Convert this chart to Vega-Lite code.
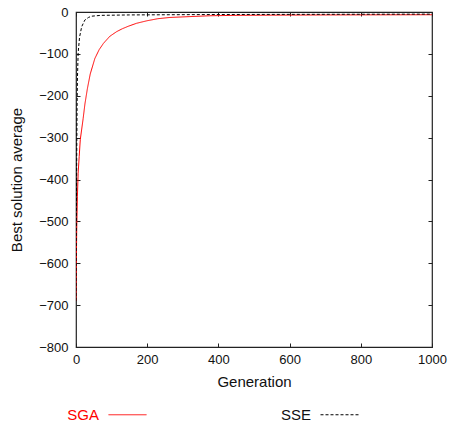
{
  "$schema": "https://vega.github.io/schema/vega-lite/v6.json",
  "width": 356,
  "height": 335,
  "autosize": {"type": "none"},
  "padding": {"left": 76, "top": 12, "right": 19, "bottom": 78},
  "background": "white",
  "config": {
    "view": {"stroke": "#222", "strokeWidth": 1.2},
    "font": "Liberation Sans",
    "axis": {
      "grid": false,
      "domain": false,
      "tickSize": 4,
      "offset": -4,
      "tickColor": "#222",
      "labelFontSize": 13,
      "labelColor": "#111",
      "titleFontSize": 15,
      "titleFontWeight": "normal",
      "titleColor": "#111",
      "labelFlush": false,
      "labelOverlap": false
    }
  },
  "data": {
    "values": [
      {"series": "SGA", "gen": 0, "value": -690},
      {"series": "SGA", "gen": 1, "value": -600},
      {"series": "SGA", "gen": 2, "value": -520},
      {"series": "SGA", "gen": 4, "value": -440},
      {"series": "SGA", "gen": 6, "value": -385},
      {"series": "SGA", "gen": 9, "value": -345},
      {"series": "SGA", "gen": 12, "value": -305},
      {"series": "SGA", "gen": 20, "value": -255},
      {"series": "SGA", "gen": 25, "value": -220},
      {"series": "SGA", "gen": 32, "value": -183},
      {"series": "SGA", "gen": 40, "value": -148},
      {"series": "SGA", "gen": 53, "value": -111},
      {"series": "SGA", "gen": 65, "value": -90},
      {"series": "SGA", "gen": 77, "value": -75},
      {"series": "SGA", "gen": 95, "value": -58},
      {"series": "SGA", "gen": 114, "value": -47},
      {"series": "SGA", "gen": 130, "value": -40},
      {"series": "SGA", "gen": 147, "value": -34},
      {"series": "SGA", "gen": 170, "value": -27},
      {"series": "SGA", "gen": 199, "value": -21},
      {"series": "SGA", "gen": 230, "value": -16},
      {"series": "SGA", "gen": 264, "value": -13},
      {"series": "SGA", "gen": 320, "value": -11},
      {"series": "SGA", "gen": 376, "value": -9},
      {"series": "SGA", "gen": 450, "value": -8},
      {"series": "SGA", "gen": 550, "value": -7.5},
      {"series": "SGA", "gen": 700, "value": -7},
      {"series": "SGA", "gen": 1000, "value": -6.5},
      {"series": "SSE", "gen": 0, "value": -690},
      {"series": "SSE", "gen": 1, "value": -500},
      {"series": "SSE", "gen": 2, "value": -350},
      {"series": "SSE", "gen": 3, "value": -230},
      {"series": "SSE", "gen": 4, "value": -160},
      {"series": "SSE", "gen": 6, "value": -98},
      {"series": "SSE", "gen": 10, "value": -60},
      {"series": "SSE", "gen": 16, "value": -35},
      {"series": "SSE", "gen": 25, "value": -19},
      {"series": "SSE", "gen": 35, "value": -13},
      {"series": "SSE", "gen": 44, "value": -10},
      {"series": "SSE", "gen": 70, "value": -8},
      {"series": "SSE", "gen": 150, "value": -7},
      {"series": "SSE", "gen": 400, "value": -6},
      {"series": "SSE", "gen": 1000, "value": -5}
    ]
  },
  "resolve": {"axis": {"x": "independent", "y": "independent"}},
  "layer": [
    {
      "mark": {"type": "line", "strokeWidth": 1, "clip": true},
      "encoding": {
        "x": {"field": "gen", "type": "quantitative", "scale": {"domain": [0, 1000], "nice": false},
              "axis": {"orient": "bottom", "title": "Generation", "format": "d", "values": [0, 200, 400, 600, 800, 1000], "labelPadding": 6, "titlePadding": 8}},
        "y": {"field": "value", "type": "quantitative", "scale": {"domain": [-800, 0], "nice": false, "zero": false},
              "axis": {"orient": "left", "title": "Best solution average", "values": [0, -100, -200, -300, -400, -500, -600, -700, -800], "labelPadding": 8, "titlePadding": 14}},
        "color": {"field": "series", "type": "nominal",
                  "scale": {"domain": ["SGA", "SSE"], "range": ["#ff0000", "#000000"]},
                  "legend": {"orient": "none", "legendX": 32, "legendY": 383, "direction": "horizontal", "title": null,
                             "symbolType": "stroke", "symbolSize": 1444, "symbolStrokeWidth": 1,
                             "labelFontSize": 15, "labelAlign": "right", "labelOffset": -48, "columnPadding": 131,
                             "encode": {"labels": {"update": {"fill": {"signal": "datum.label === 'SGA' ? '#ff0000' : '#111111'"}}}}}},
        "strokeDash": {"field": "series", "type": "nominal",
                       "scale": {"domain": ["SGA", "SSE"], "range": [[1, 0], [3, 2]]},
                       "legend": null}
      }
    },
    {
      "mark": {"type": "line", "opacity": 0},
      "encoding": {
        "x": {"field": "gen", "type": "quantitative",
              "axis": {"orient": "top", "title": null, "labels": false, "values": [0, 200, 400, 600, 800, 1000]}},
        "y": {"field": "value", "type": "quantitative",
              "axis": {"orient": "right", "title": null, "labels": false, "values": [0, -100, -200, -300, -400, -500, -600, -700, -800]}}
      }
    }
  ]
}
